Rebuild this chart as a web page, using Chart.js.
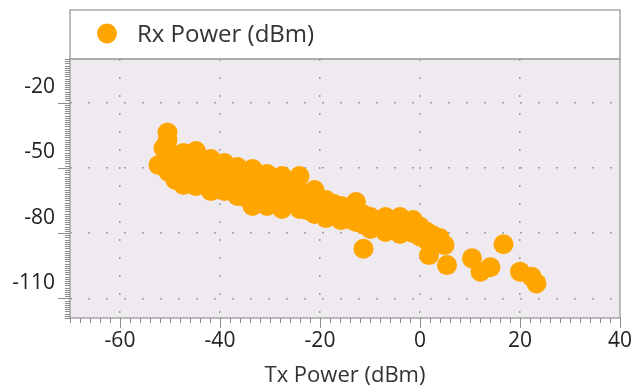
<!DOCTYPE html>
<html>
<head>
<meta charset="utf-8">
<script src="https://cdn.jsdelivr.net/npm/chart.js@4/dist/chart.umd.min.js"></script>
<style>
  html, body { margin: 0; padding: 0; background: #ffffff; }
  #wrap { width: 642px; height: 389px; }
</style>
</head>
<body>
<div id="wrap"><canvas id="c" width="642" height="389"></canvas></div>
<script>
// Link measurements: transmit power vs. received power, both in dBm
const seriesName = 'Rx Power (dBm)';
const txPower = [
  -52.3, -51.3, -50.5, -50.5, -50.3, -50.3, -48.9, -48.9,
  -47.3, -47.3, -47.3, -44.8, -44.8, -44.8,
  -41.8, -41.8, -41.8, -39.1, -39.1, -39.1,
  -36.5, -36.5, -36.5, -33.5, -33.5, -33.5,
  -30.6, -30.6, -30.6, -27.6, -27.6, -27.6,
  -24.1, -24.1, -24.1, -21.1, -21.1, -21.1,
  -18.8, -18.8, -18.8, -15.8, -15.8,
  -12.8, -12.8, -12.8, -9.9, -9.9, -6.9, -6.9,
  -4.0, -4.0, -4.0, -1.4, -1.4, 1.4, 1.4, 3.9, 4.9,
  -49.6, -46.0, -46.0, -43.3, -43.3, -40.4, -40.4, -37.8, -37.8,
  -35.0, -35.0, -32.0, -32.0, -29.0, -29.0, -25.8, -25.8,
  -22.6, -22.6, -20.0, -17.3, -17.3, -14.3, -14.3, -11.3, -11.3,
  -8.4, -5.5, -2.7, 0.0, 0.0, 2.6,
  -11.3, 1.8, 5.4, 10.4, 12.1, 14.1, 16.7, 20.0, 22.3, 23.3
];
const rxPower = [
  -48.7, -40.9, -33.8, -37.2, -45.0, -51.9, -44.1, -55.6,
  -43.2, -50.5, -57.9, -42.3, -50.1, -58.4,
  -46.0, -53.3, -60.7, -47.8, -54.2, -60.7,
  -49.6, -56.5, -62.9, -50.5, -58.8, -67.5,
  -52.8, -60.2, -67.5, -53.8, -61.1, -68.9,
  -53.8, -61.1, -68.9, -60.2, -65.7, -71.2,
  -64.8, -68.9, -73.1, -67.5, -74.0,
  -65.7, -70.3, -74.9, -72.6, -78.1, -72.6, -79.5,
  -72.6, -76.7, -80.4, -74.0, -80.0, -79.5, -83.2, -82.2, -85.5,
  -48.5, -46.5, -54.2, -46.2, -54.5, -50.6, -57.3, -52.0, -58.8,
  -54.8, -63.5, -55.5, -64.0, -57.5, -64.5, -57.5, -65.0,
  -63.5, -69.5, -67.5, -66.5, -71.0, -69.5, -73.5, -71.5, -76.0,
  -75.5, -76.0, -77.0, -77.0, -81.5, -81.0,
  -87.2, -90.1, -94.7, -91.6, -97.7, -95.7, -85.1, -97.7, -100.0, -103.1
];
const xTicks = [-60, -40, -20, 0, 20, 40];
const yTicks = [-110, -80, -50, -20];

const FONT = '"Open Sans", "Noto Sans", sans-serif';
const ORANGE = '#FFA500';

// Plot background, legend box, plot frame and minor/major tick marks
const framePlugin = {
  id: 'frame',
  beforeDraw(chart) {
    const { ctx, chartArea: a } = chart;
    ctx.save();
    ctx.fillStyle = '#EEEAF0';
    ctx.fillRect(a.left, a.top, a.right - a.left, a.bottom - a.top);
    // legend box
    const lt = 10;
    ctx.fillStyle = '#ffffff';
    ctx.fillRect(a.left, lt, a.right - a.left, a.top - lt);
    ctx.strokeStyle = '#A6A6A6';
    ctx.lineWidth = 1.5;
    ctx.strokeRect(a.left, lt, a.right - a.left, a.top - lt);
    const ds = chart.data.datasets[0];
    ctx.fillStyle = ds.backgroundColor;
    ctx.beginPath();
    ctx.arc(a.left + 37, 33.5, 10, 0, Math.PI * 2);
    ctx.fill();
    ctx.fillStyle = '#333333';
    ctx.font = '24px ' + FONT;
    ctx.textBaseline = 'middle';
    ctx.textAlign = 'left';
    ctx.fillText(ds.label, a.left + 67, 35);
    ctx.restore();
  },
  afterDraw(chart) {
    const { ctx, chartArea: a, scales } = chart;
    ctx.save();
    ctx.strokeStyle = '#A6A6A6';
    ctx.lineWidth = 1.5;
    ctx.strokeRect(a.left, a.top, a.right - a.left, a.bottom - a.top);
    ctx.strokeStyle = '#8C8C8C';
    ctx.lineWidth = 1;
    ctx.beginPath();
    // y axis: minor every 1 dBm, major at labelled values
    const ys = scales.y;
    for (let v = Math.ceil(ys.min); v <= ys.max; v += 1) {
      const py = Math.round(ys.getPixelForValue(v)) + 0.5;
      const len = yTicks.includes(v) ? 12 : 5;
      ctx.moveTo(a.left - len, py);
      ctx.lineTo(a.left, py);
    }
    // x axis: minor every 2 dBm, major at labelled values
    const xs = scales.x;
    for (let v = Math.ceil(xs.min / 2) * 2; v <= xs.max; v += 2) {
      const px = Math.round(xs.getPixelForValue(v)) + 0.5;
      const len = xTicks.includes(v) ? 10 : 5;
      ctx.moveTo(px, a.bottom);
      ctx.lineTo(px, a.bottom + len);
    }
    ctx.stroke();
    ctx.restore();
  }
};

const points = txPower.map((x, i) => ({ x, y: rxPower[i] }));

new Chart(document.getElementById('c'), {
  type: 'scatter',
  data: {
    datasets: [{
      label: seriesName,
      data: points,
      backgroundColor: ORANGE,
      borderColor: ORANGE,
      borderWidth: 0,
      pointRadius: 10,
      pointHoverRadius: 10
    }]
  },
  options: {
    responsive: false,
    animation: false,
    layout: { padding: { left: 0, right: 14, top: 59, bottom: 0 } },
    plugins: { legend: { display: false }, tooltip: { enabled: false } },
    scales: {
      x: {
        type: 'linear',
        min: -70,
        max: 40,
        afterBuildTicks: s => { s.ticks = xTicks.map(v => ({ value: v })); },
        afterFit: s => { s.height = 71; },
        grid: {
          drawTicks: false,
          lineWidth: 1.5,
          color: c => (c.tick && c.tick.value === 40) ? 'rgba(0,0,0,0)' : '#A0A0A0'
        },
        border: { display: false, dash: [2, 16] },
        ticks: {
          padding: 10,
          autoSkip: false,
          maxRotation: 0,
          color: '#222222',
          font: { family: FONT, size: 21 }
        },
        title: {
          display: true,
          text: 'Tx Power (dBm)',
          color: '#333333',
          font: { family: FONT, size: 22 },
          padding: { top: 0, bottom: 0 }
        }
      },
      y: {
        type: 'linear',
        min: -119,
        max: 0,
        afterBuildTicks: s => { s.ticks = yTicks.map(v => ({ value: v })); },
        afterFit: s => { s.width = 70; },
        grid: {
          drawTicks: false,
          lineWidth: 1.5,
          color: '#A0A0A0'
        },
        border: { display: false, dash: [2, 16] },
        ticks: {
          padding: 15,
          labelOffset: -15.5,
          color: '#222222',
          font: { family: FONT, size: 21 }
        }
      }
    }
  },
  plugins: [framePlugin]
});
</script>
</body>
</html>
